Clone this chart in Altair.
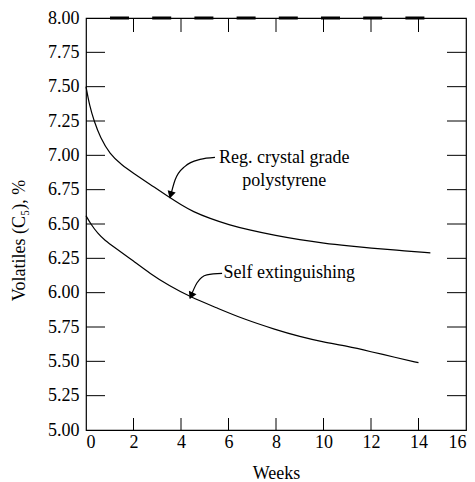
import altair as alt
import pandas as pd

# Data
reg_weeks = [0, 0.15, 0.34, 0.6, 1.0, 1.5, 2.0, 2.69, 3.45, 4.0, 4.5, 5.22, 6.0, 6.9, 8.0, 9.0, 10.0, 11.1, 12.0, 13.0, 14.5]
reg_vals = [7.50, 7.36, 7.25, 7.13, 7.01, 6.93, 6.87, 6.79, 6.70, 6.64, 6.59, 6.54, 6.495, 6.455, 6.415, 6.385, 6.36, 6.34, 6.325, 6.31, 6.29]

self_weeks = [0, 0.2, 0.5, 0.8, 1.2, 2.0, 2.69, 3.5, 4.38, 5.5, 6.6, 8.0, 9.0, 10.0, 11.0, 12.0, 13.0, 14.0]
self_vals = [6.56, 6.50, 6.43, 6.38, 6.33, 6.23, 6.14, 6.05, 5.97, 5.89, 5.81, 5.73, 5.68, 5.64, 5.61, 5.57, 5.53, 5.49]

x_ticks = [0, 2, 4, 6, 8, 10, 12, 14, 16]
y_ticks = [5.00, 5.25, 5.50, 5.75, 6.00, 6.25, 6.50, 6.75, 7.00, 7.25, 7.50, 7.75, 8.00]

# annotation texts and anchor points
label_text = ["Reg. crystal grade", "polystyrene", "Self extinguishing"]
label_x = [8.35, 8.35, 5.75]
label_y = [6.98, 6.81, 6.14]
label_align = ["center", "center", "left"]

arrow1_x = [5.43, 4.8, 4.17, 3.75, 3.54]
arrow1_y = [6.985, 6.97, 6.92, 6.82, 6.69]
arrow2_x = [5.73, 5.09, 4.67, 4.38]
arrow2_y = [6.14, 6.13, 6.07, 5.96]
head_x = [3.58, 4.45]
head_y = [6.72, 5.985]
head_angle = [196, 205]

FONT = "Liberation Serif, DejaVu Serif"
FS = 18
W, H = 380, 412

curves = pd.concat([
    pd.DataFrame({"week": reg_weeks, "val": reg_vals, "series": "Reg. crystal grade polystyrene"}),
    pd.DataFrame({"week": self_weeks, "val": self_vals, "series": "Self extinguishing"}),
])
arrows = pd.concat([
    pd.DataFrame({"week": arrow1_x, "val": arrow1_y, "a": "1", "o": range(len(arrow1_x))}),
    pd.DataFrame({"week": arrow2_x, "val": arrow2_y, "a": "2", "o": range(len(arrow2_x))}),
])
heads = pd.DataFrame({"week": head_x, "val": head_y, "angle": head_angle})
labels = pd.DataFrame({"week": label_x, "val": label_y, "text": label_text, "align": label_align})

xs = alt.Scale(domain=[0, 16], nice=False, zero=False)
ys = alt.Scale(domain=[5, 8], nice=False, zero=False)

x_axis = alt.Axis(values=x_ticks, format="d", ticks=False, domain=False, grid=False,
                  labelPadding=3, labelOverlap=False, title="Weeks", titlePadding=13)
y_axis = alt.Axis(values=y_ticks, format=".2f", ticks=False, domain=False, grid=False,
                  labelPadding=7, labelOverlap=False, title="Volatiles (C₅), %",
                  titlePadding=19, titleY=222)

XA = lambda f: alt.X(f, scale=xs, axis=x_axis)
YA = lambda f: alt.Y(f, scale=ys, axis=y_axis)

base_lines = alt.Chart(curves).mark_line(color="black", strokeWidth=1.2, interpolate="basis").encode(
    x=XA("week:Q"), y=YA("val:Q"), detail="series:N")

inner_y = [v for v in y_ticks if 5 < v < 8]
inner_x = [v for v in x_ticks if 0 < v < 16]
yt = pd.DataFrame({"val": inner_y})
xt = pd.DataFrame({"week": inner_x})

ytick_left = alt.Chart(yt).mark_rule(color="black", strokeWidth=1).encode(
    y=YA("val:Q"), x=alt.value(0), x2=alt.value(19))
ytick_right = alt.Chart(yt).mark_rule(color="black", strokeWidth=1).encode(
    y=YA("val:Q"), x=alt.value(W - 19), x2=alt.value(W))
xtick_bot = alt.Chart(xt).mark_rule(color="black", strokeWidth=1).encode(
    x=XA("week:Q"), y=alt.value(H), y2=alt.value(H - 12))
xtick_top = alt.Chart(xt).mark_rule(color="black", strokeWidth=1).encode(
    x=XA("week:Q"), y=alt.value(0), y2=alt.value(14))

top_dash = alt.Chart(pd.DataFrame({"k": [1]})).mark_rule(
    color="black", strokeWidth=3, strokeDash=[19, 23.2]).encode(
    x=alt.value(24), x2=alt.value(339), y=alt.value(0))

arrow_lines = alt.Chart(arrows).mark_line(color="black", strokeWidth=1.2, interpolate="monotone").encode(
    x=XA("week:Q"), y=YA("val:Q"), detail="a:N", order="o:Q")
arrow_heads = alt.Chart(heads).mark_point(shape="triangle", filled=True, color="black", opacity=1, size=70).encode(
    x=XA("week:Q"), y=YA("val:Q"), angle=alt.Angle("angle:Q", scale=None))

text_c = alt.Chart(labels[labels["align"] == "center"]).mark_text(
    font=FONT, fontSize=FS, color="black", align="center", baseline="middle").encode(
    x=XA("week:Q"), y=YA("val:Q"), text="text:N")
text_l = alt.Chart(labels[labels["align"] == "left"]).mark_text(
    font=FONT, fontSize=FS, color="black", align="left", baseline="middle", dx=1).encode(
    x=XA("week:Q"), y=YA("val:Q"), text="text:N")

chart = alt.layer(base_lines, ytick_left, ytick_right, xtick_bot, xtick_top, top_dash,
                  arrow_lines, arrow_heads, text_c, text_l).properties(
    width=W, height=H,
    background="white",
    autosize=alt.AutoSizeParams(type="none"),
    padding={"left": 78, "top": 10, "right": 1, "bottom": 52},
).configure_view(stroke="black", strokeWidth=1.2).configure_axis(
    labelFont=FONT, labelFontSize=FS, labelColor="black", labelOverlap=False,
    titleFont=FONT, titleFontSize=FS, titleFontWeight="normal", titleColor="black",
)

chart.save("out.html", embed_options={"renderer": "svg", "actions": False})
